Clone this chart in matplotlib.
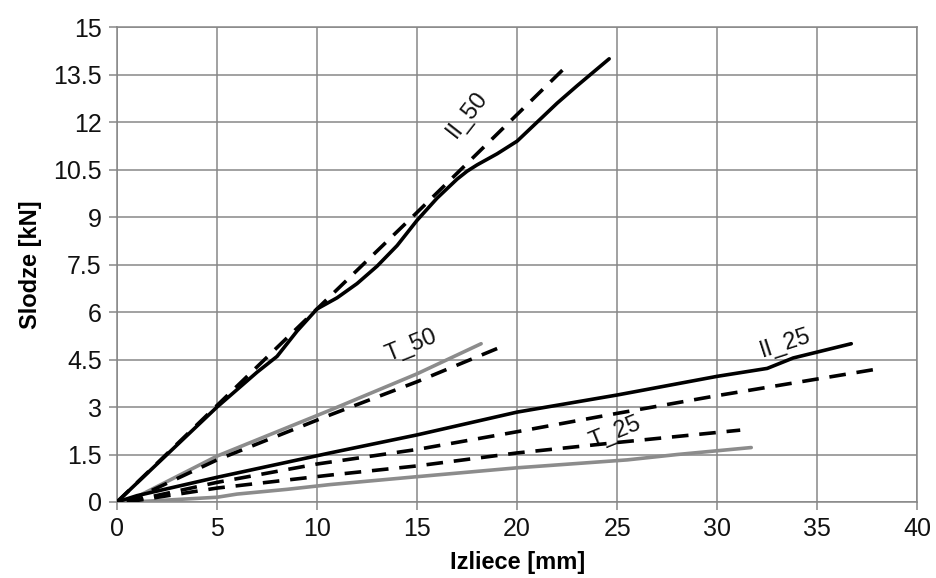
import matplotlib
matplotlib.use("Agg")
import matplotlib.pyplot as plt

plt.rcParams['font.family'] = ['Liberation Sans', 'DejaVu Sans']

# ---- data (Izliece [mm], Slodze [kN]) ----
ii50_x = [0, 0.5, 1, 2, 5, 7, 8, 9, 10, 11, 12, 13, 14, 15, 16, 17, 17.5, 18, 19, 20, 21, 22, 23, 24.6]
ii50_y = [0, 0.3, 0.6, 1.2, 3.0, 4.1, 4.6, 5.4, 6.1, 6.45, 6.9, 7.45, 8.1, 8.9, 9.6, 10.2, 10.45, 10.65, 11.0, 11.4, 12.0, 12.6, 13.15, 14.0]
ii50m_x = [0, 5, 10, 15, 22.6]
ii50m_y = [0, 3.05, 6.1, 9.15, 13.85]

t50_x = [0.8, 5, 10.65, 15, 18.2]
t50_y = [0.1, 1.45, 2.9, 4.05, 5.0]
t50m_x = [0.5, 5, 10.65, 15, 19.2]
t50m_y = [0.0, 1.33, 2.75, 3.8, 4.9]

ii25_x = [0, 1, 5, 10.65, 15, 20, 25, 30, 32.5, 33.8, 36.7]
ii25_y = [0, 0.2, 0.78, 1.55, 2.12, 2.84, 3.38, 3.97, 4.22, 4.55, 5.0]
ii25m_x = [0.5, 5, 10, 15, 20, 25, 30, 38]
ii25m_y = [0.0, 0.62, 1.2, 1.66, 2.22, 2.8, 3.36, 4.2]

t25_x = [0.8, 5, 6, 8.5, 10.65, 15, 20, 25.5, 28, 31.7]
t25_y = [0.0, 0.15, 0.25, 0.4, 0.55, 0.8, 1.08, 1.33, 1.5, 1.72]
t25m_x = [0.5, 5, 10.65, 15, 20, 25, 31.15]
t25m_y = [0.0, 0.44, 0.85, 1.14, 1.55, 1.88, 2.27]

x_ticks = [0, 5, 10, 15, 20, 25, 30, 35, 40]
y_ticks = [0, 1.5, 3, 4.5, 6, 7.5, 9, 10.5, 12, 13.5, 15]
y_tick_labels = ['0', '1.5', '3', '4.5', '6', '7.5', '9', '10.5', '12', '13.5', '15']

labels = ['II_50', 'T_50', 'II_25', 'T_25']

# ---- figure ----
fig = plt.figure(figsize=(9.36, 5.78), dpi=100)
ax = fig.add_axes([0.125, 0.1315, 0.855, 0.8215])

grid_c = '#878787'
lw = 2.6
dash = (0, (4.6, 3.0))

ax.plot(ii50_x, ii50_y, color='black', lw=lw, solid_capstyle='round', solid_joinstyle='round', zorder=4)
ax.plot(ii50m_x, ii50m_y, color='black', lw=lw, linestyle=dash, zorder=4)
ax.plot(t50_x, t50_y, color='#8c8c8c', lw=lw, solid_capstyle='round', zorder=3)
ax.plot(t50m_x, t50m_y, color='black', lw=lw, linestyle=dash, zorder=4)
ax.plot(ii25_x, ii25_y, color='black', lw=lw, solid_capstyle='round', solid_joinstyle='round', zorder=4)
ax.plot(ii25m_x, ii25m_y, color='black', lw=lw, linestyle=dash, zorder=4)
ax.plot(t25_x, t25_y, color='#8c8c8c', lw=lw, solid_capstyle='round', zorder=3)
ax.plot(t25m_x, t25m_y, color='black', lw=lw, linestyle=dash, zorder=4)

ax.set_xlim(0, 40)
ax.set_ylim(0, 15)
ax.set_xticks(x_ticks)
ax.set_yticks(y_ticks)
ax.set_yticklabels(y_tick_labels)
ax.grid(True, color=grid_c, lw=1.1, zorder=0)
ax.set_axisbelow(True)
for s in ax.spines.values():
    s.set_color(grid_c)
    s.set_linewidth(1.1)
ax.tick_params(axis='both', direction='out', length=6, width=1.1, color=grid_c,
               labelsize=18, labelcolor='#111111', pad=5)

ax.set_xlabel('Izliece [mm]', fontsize=17, fontweight='bold', labelpad=7)
ax.set_ylabel('Slodze [kN]', fontsize=17, fontweight='bold', labelpad=8)

txt_kw = dict(fontsize=17, color='#111111', ha='center', va='center', zorder=2)
ax.text(17.5, 12.25, labels[0], rotation=52, **txt_kw)
ax.text(14.7, 4.95, labels[1], rotation=22, **txt_kw)
ax.text(33.4, 5.0, labels[2], rotation=18, **txt_kw)
ax.text(24.9, 2.2, labels[3], rotation=22, **txt_kw)

fig.savefig('out.png', dpi=100)
